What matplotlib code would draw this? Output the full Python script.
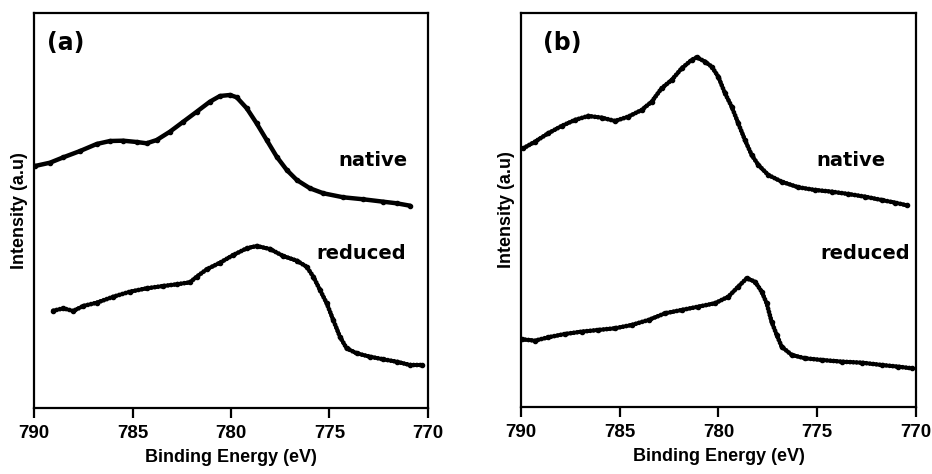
import matplotlib
matplotlib.use("Agg")
import matplotlib.pyplot as plt

# ---------------- data (intensity in arbitrary units) ----------------
a_native_e = [789.95, 789.19, 788.51, 787.66, 786.82, 786.14, 785.47, 784.79, 784.28, 783.77,
              783.10, 782.42, 781.74, 781.07, 780.56, 780.05, 779.71, 779.20, 778.70, 778.19,
              777.68, 777.17, 776.66, 775.99, 775.31, 774.30, 773.28, 772.27, 771.59, 770.91]
a_native_i = [242.0, 245.3, 250.7, 257.0, 264.0, 267.0, 267.3, 266.0, 264.7, 268.0,
              276.3, 286.3, 296.3, 306.3, 312.0, 313.0, 310.7, 299.7, 284.7, 268.0,
              251.3, 238.0, 228.0, 219.7, 214.7, 210.7, 208.7, 206.3, 204.7, 202.3]

a_reduced_e = [789.02, 788.51, 788.01, 787.50, 786.82, 785.97, 785.13, 784.28, 783.44, 782.76,
               782.08, 781.74, 781.23, 780.56, 779.88, 779.20, 778.70, 778.02, 777.35, 776.66,
               776.16, 775.82, 775.48, 775.14, 774.81, 774.47, 774.13, 773.62, 772.94, 772.27,
               771.59, 770.91, 770.32]
a_reduced_i = [97.3, 99.7, 97.0, 102.0, 105.3, 111.3, 116.3, 119.7, 122.0, 123.7,
               125.7, 131.3, 138.7, 145.3, 153.0, 159.7, 162.0, 159.0, 152.0, 147.3,
               141.3, 131.3, 118.0, 104.7, 88.0, 71.3, 59.7, 54.7, 51.3, 48.7,
               46.3, 43.0, 43.0]

b_native_e = [789.88, 789.29, 788.62, 787.94, 787.27, 786.59, 785.91, 785.24, 784.57, 783.89,
              783.38, 782.88, 782.37, 781.86, 781.36, 781.10, 780.68, 780.34, 780.01, 779.67,
              779.33, 779.00, 778.66, 778.32, 777.98, 777.48, 776.80, 775.96, 775.11, 774.27,
              773.43, 772.58, 771.74, 771.06, 770.47]
b_native_i = [258.7, 265.3, 273.7, 281.0, 287.0, 291.0, 289.3, 286.0, 290.3, 297.0,
              305.3, 318.7, 327.0, 338.7, 347.0, 349.7, 345.3, 340.3, 330.3, 313.7,
              300.3, 283.7, 267.0, 252.0, 242.0, 232.0, 225.3, 219.7, 217.0, 215.3,
              213.0, 210.3, 207.0, 204.3, 201.7]

b_reduced_e = [789.96, 789.29, 788.62, 787.77, 786.93, 786.09, 785.24, 784.39, 783.54, 782.70,
               781.86, 781.02, 780.18, 779.50, 779.00, 778.57, 778.15, 777.81, 777.56, 777.31,
               777.05, 776.80, 776.29, 775.62, 774.77, 773.76, 772.75, 771.74, 770.90, 770.22]
b_reduced_i = [67.7, 66.3, 69.7, 73.0, 75.3, 77.0, 78.7, 82.0, 87.0, 93.7,
               97.0, 100.3, 103.7, 110.3, 120.3, 128.7, 125.3, 115.3, 103.7, 85.3,
               72.0, 60.3, 52.0, 48.7, 47.0, 45.3, 44.3, 42.0, 40.3, 38.7]

xticks = [790, 785, 780, 775, 770]
panel_labels = ["(a)", "(b)"]
series_labels = ["native", "reduced"]

# ---------------- figure ----------------
fig = plt.figure(figsize=(9.32, 4.74), dpi=100)
ax_a = fig.add_axes([0.0365, 0.1392, 0.4227, 0.8334])
ax_b = fig.add_axes([0.5590, 0.1414, 0.4238, 0.8312])

tick_font = dict(family="Liberation Sans", weight="bold", size=13.5)
lab_font = dict(family="Liberation Sans", weight="bold", size=13)


def style(ax, ytop):
    ax.set_xlim(790, 770)
    ax.set_ylim(0, ytop)
    ax.set_xticks(xticks)
    ax.set_xticklabels([str(t) for t in xticks], fontdict=tick_font)
    ax.set_yticks([])
    ax.tick_params(axis="x", direction="out", length=7.5, width=1.6, pad=5, top=False)
    for s in ax.spines.values():
        s.set_linewidth(1.6)
        s.set_color("black")
    ax.set_xlabel("Binding Energy (eV)", fontdict=lab_font, labelpad=5)
    ax.set_ylabel("Intensity (a.u)", fontdict=lab_font, labelpad=4)


def draw(ax, e, i, dotted, lw=3.2, ms=3.0):
    if dotted:
        ax.plot(e, i, color="black", lw=lw, linestyle=(0, (0.05, 0.65)),
                dash_capstyle="round", solid_capstyle="round")
    else:
        ax.plot(e, i, color="black", lw=lw, solid_capstyle="round", solid_joinstyle="round")
    ax.plot(e, i, linestyle="none", marker="o", ms=ms, color="black")


style(ax_a, 395)
style(ax_b, 394)

draw(ax_a, a_native_e, a_native_i, dotted=False, lw=3.2)
draw(ax_a, a_reduced_e, a_reduced_i, dotted=True, lw=3.4)
draw(ax_b, b_native_e, b_native_i, dotted=True, lw=3.4)
draw(ax_b, b_reduced_e, b_reduced_i, dotted=True, lw=3.4)

txt = dict(family="DejaVu Sans", weight="bold", size=14)
ax_a.text(0.947, 0.613, series_labels[0], transform=ax_a.transAxes, ha="right", va="baseline", **txt)
ax_a.text(0.944, 0.377, series_labels[1], transform=ax_a.transAxes, ha="right", va="baseline", **txt)
ax_b.text(0.922, 0.612, series_labels[0], transform=ax_b.transAxes, ha="right", va="baseline", **txt)
ax_b.text(0.985, 0.376, series_labels[1], transform=ax_b.transAxes, ha="right", va="baseline", **txt)

ax_a.text(0.033, 0.924, panel_labels[0], transform=ax_a.transAxes, ha="left", va="center",
          family="DejaVu Sans", weight="bold", size=17)
ax_b.text(0.056, 0.925, panel_labels[1], transform=ax_b.transAxes, ha="left", va="center",
          family="DejaVu Sans", weight="bold", size=17)

fig.savefig("out.png", dpi=100)
